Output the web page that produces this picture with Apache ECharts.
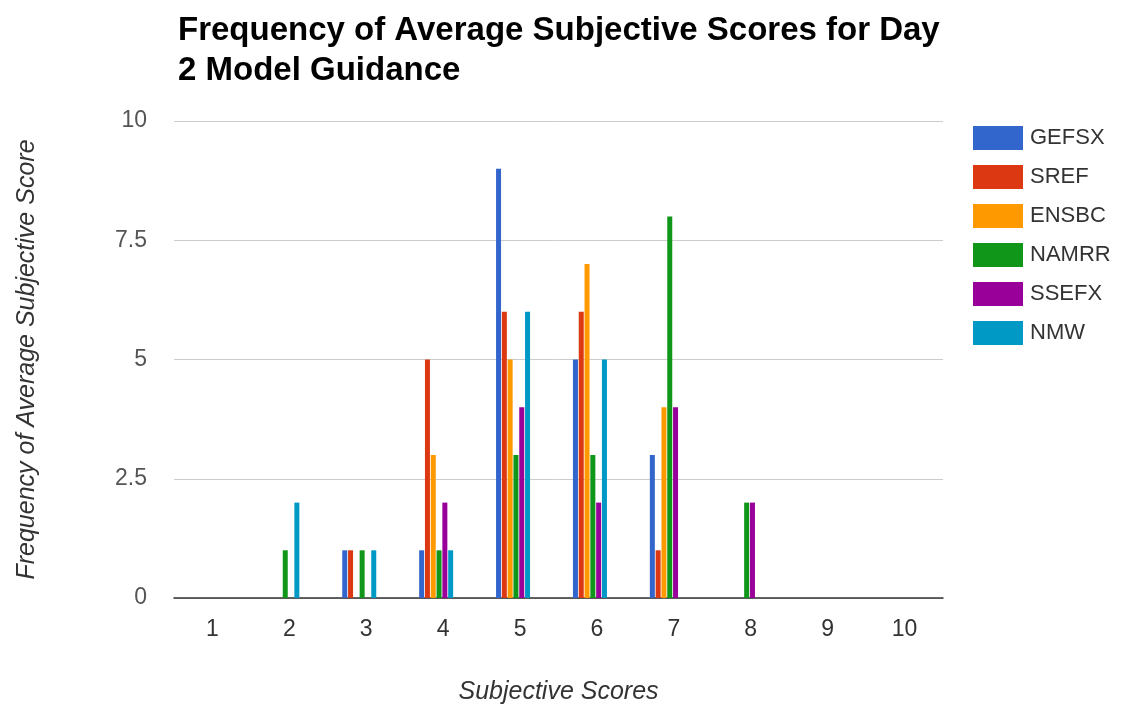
<!DOCTYPE html>
<html>
<head>
<meta charset="utf-8">
<script src="https://cdn.jsdelivr.net/npm/echarts@6/dist/echarts.min.js"></script>
<style>
  html, body { margin: 0; padding: 0; background: #fff; }
  #chart { width: 1122px; height: 706px; }
</style>
</head>
<body>
<div id="chart"></div>
<script>
// scores on the x axis
var scores = ['1', '2', '3', '4', '5', '6', '7', '8', '9', '10'];
var seriesNames = ['GEFSX', 'SREF', 'ENSBC', 'NAMRR', 'SSEFX', 'NMW'];
var colors = ['#3366cc', '#dc3912', '#ff9900', '#109618', '#990099', '#0099c6'];

// frequency per score, one array per model
var gefsx = [0, 0, 1, 1, 9, 5, 3, 0, 0, 0];
var sref  = [0, 0, 1, 5, 6, 6, 1, 0, 0, 0];
var ensbc = [0, 0, 0, 3, 5, 7, 4, 0, 0, 0];
var namrr = [0, 1, 1, 1, 3, 3, 8, 2, 0, 0];
var ssefx = [0, 0, 0, 2, 4, 2, 4, 2, 0, 0];
var nmw   = [0, 2, 1, 1, 6, 5, 0, 0, 0, 0];

var allData = [gefsx, sref, ensbc, namrr, ssefx, nmw];
var font = '"Liberation Sans", Arial, sans-serif';

let myChart = echarts.init(document.getElementById('chart'));
myChart.setOption({
  animation: false,
  color: colors,
  title: {
    text: 'Frequency of Average Subjective Scores for Day\n2 Model Guidance',
    left: 173,
    top: 6,
    textStyle: {
      fontFamily: font,
      fontSize: 33,
      fontWeight: 'bold',
      color: '#000',
      lineHeight: 40
    }
  },
  legend: {
    orient: 'vertical',
    left: 968,
    top: 121,
    itemWidth: 50,
    itemHeight: 24,
    itemGap: 15,
    icon: 'rect',
    data: seriesNames,
    textStyle: { fontFamily: font, fontSize: 22, color: '#333', padding: [0, 0, 0, 2] }
  },
  // grid 0 carries the axes and labels, grid 1 the bars (shifted a little left like the original)
  grid: [
    { left: 174, right: 179, top: 121, bottom: 108, outerBoundsMode: 'none', containLabel: false },
    { left: 167, right: 186, top: 121, bottom: 108, outerBoundsMode: 'none', containLabel: false }
  ],
  xAxis: [{
    type: 'category',
    gridIndex: 0,
    data: scores,
    name: 'Subjective Scores',
    nameLocation: 'middle',
    nameGap: 82,
    nameTextStyle: { fontFamily: font, fontSize: 25, fontStyle: 'italic', color: '#333' },
    axisLine: { lineStyle: { color: '#333', width: 1.5 } },
    axisTick: { show: false },
    axisLabel: { fontFamily: font, fontSize: 23, color: '#333', margin: 20 }
  }, {
    type: 'category',
    gridIndex: 1,
    data: scores,
    show: false
  }],
  yAxis: [{
    type: 'value',
    gridIndex: 0,
    min: 0,
    max: 10,
    interval: 2.5,
    name: 'Frequency of Average Subjective Score',
    nameLocation: 'middle',
    nameGap: 134,
    nameTextStyle: { fontFamily: font, fontSize: 25, fontStyle: 'italic', color: '#333' },
    axisLine: { show: false },
    axisTick: { show: false },
    axisLabel: { fontFamily: font, fontSize: 23, color: '#555', margin: 27 },
    splitLine: { lineStyle: { color: '#cccccc' } }
  }, {
    type: 'value',
    gridIndex: 1,
    min: 0,
    max: 10,
    interval: 2.5,
    show: false
  }],
  series: seriesNames.map(function (name, i) {
    return {
      name: name,
      type: 'bar',
      xAxisIndex: 1,
      yAxisIndex: 1,
      barWidth: 5,
      barGap: '16%',
      z: 3,
      data: allData[i]
    };
  })
});
</script>
</body>
</html>
